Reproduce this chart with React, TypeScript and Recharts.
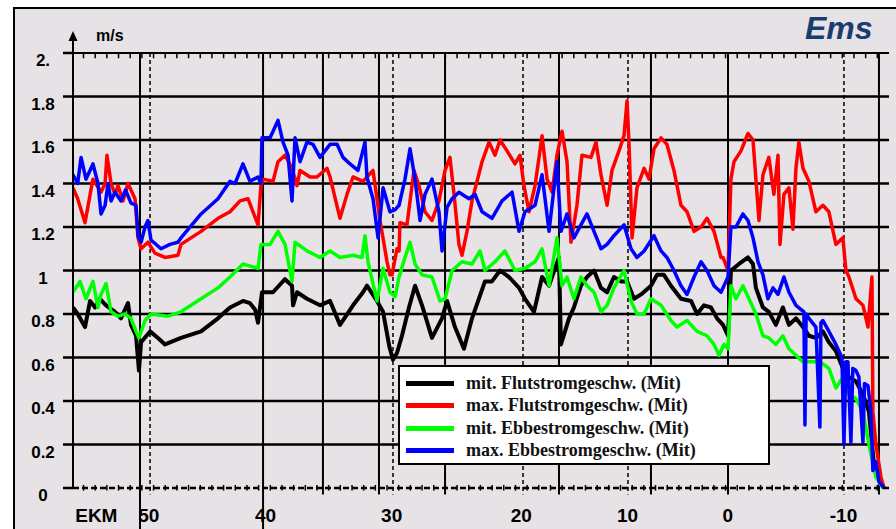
import React from "react";
import { LineChart, Line, XAxis, YAxis, ReferenceLine, Legend } from "recharts";

// Station along the fairway (km, uniform scale) and current speed in m/s
const mitFlut: [number, number][] = [
  [-0.9, 0.83], [-0.5, 0.8], [0.13, 0.74], [0.56, 0.86], [0.99, 0.83], [1.41, 0.87], [1.93, 0.84],
  [2.7, 0.81], [3.21, 0.78], [3.81, 0.85], [4.07, 0.75], [4.5, 0.7], [4.75, 0.54], [4.93, 0.67],
  [5.7, 0.72], [6.38, 0.69], [6.98, 0.66], [8.35, 0.69], [10.07, 0.72], [11.52, 0.78], [12.55, 0.83],
  [13.66, 0.86], [14.26, 0.85], [14.7, 0.82], [14.95, 0.76], [15.29, 0.9], [16.23, 0.9], [17.26, 0.96],
  [17.86, 0.93], [17.95, 0.84], [18.29, 0.9], [19.14, 0.87], [20.26, 0.84], [21.12, 0.86], [21.97, 0.75],
  [23.09, 0.84], [23.94, 0.9], [24.28, 0.93], [25.14, 0.86], [25.66, 0.81], [26.2, 0.65], [26.51, 0.59],
  [26.85, 0.62], [27.28, 0.7], [27.88, 0.83], [28.4, 0.93], [29.0, 0.84], [29.85, 0.69], [30.71, 0.78],
  [31.14, 0.86], [31.82, 0.74], [32.59, 0.64], [33.28, 0.78], [34.39, 0.95], [34.99, 0.95], [35.68, 1.0],
  [36.45, 0.97], [37.31, 0.92], [37.82, 0.87], [38.59, 0.81], [39.28, 0.97], [39.88, 0.93], [40.39, 1.01],
  [40.73, 1.06], [40.9, 0.66], [41.59, 0.78], [42.01, 0.83], [42.61, 0.93], [43.13, 0.97], [43.73, 1.0],
  [44.33, 0.92], [44.85, 0.9], [45.44, 0.97], [46.04, 0.95], [46.56, 0.95], [47.16, 0.87], [47.76, 0.89],
  [48.61, 0.93], [49.13, 0.98], [49.72, 0.98], [50.32, 0.93], [51.18, 0.87], [52.04, 0.86], [52.56, 0.8],
  [53.15, 0.84], [53.75, 0.83], [54.27, 0.78], [54.78, 0.75], [55.21, 0.7], [55.46, 1.0], [56.15, 1.03],
  [56.92, 1.06], [57.35, 1.03], [57.6, 0.92], [58.2, 0.83], [58.71, 0.81], [59.31, 0.75], [59.91, 0.83],
  [60.43, 0.75], [61.03, 0.78], [61.63, 0.74], [62.14, 0.7], [62.74, 0.69], [63.34, 0.72], [63.85, 0.67],
  [64.45, 0.63], [65.05, 0.55], [65.57, 0.51], [66.17, 0.49], [66.77, 0.43], [67.28, 0.35], [67.71, 0.11],
  [68.14, 0.05], [68.57, 0.0],
];

const maxFlut: [number, number][] = [
  [-0.9, 1.38], [-0.5, 1.33], [0.13, 1.22], [0.6, 1.36], [0.81, 1.42], [1.5, 1.36], [1.85, 1.4],
  [2.01, 1.53], [2.36, 1.4], [2.7, 1.35], [2.96, 1.39], [3.38, 1.32], [3.81, 1.4], [4.41, 1.33],
  [4.67, 1.15], [4.93, 1.1], [5.52, 1.13], [6.12, 1.08], [6.98, 1.06], [8.09, 1.07], [8.35, 1.12],
  [10.07, 1.18], [11.52, 1.24], [12.55, 1.27], [13.41, 1.32], [14.09, 1.33], [14.52, 1.27], [14.95, 1.21],
  [15.2, 1.39], [15.38, 1.42], [16.23, 1.41], [16.66, 1.5], [17.26, 1.53], [17.86, 1.47], [18.29, 1.39],
  [18.55, 1.46], [19.4, 1.43], [20.0, 1.43], [20.86, 1.47], [21.12, 1.43], [21.97, 1.24], [22.57, 1.35],
  [23.09, 1.43], [23.94, 1.41], [24.8, 1.46], [25.4, 1.23], [26.0, 1.04], [26.25, 0.98], [26.43, 0.98],
  [26.85, 1.1], [27.03, 1.09], [27.11, 1.22], [27.71, 1.21], [28.31, 1.46], [28.74, 1.39], [29.25, 1.27],
  [29.85, 1.23], [30.45, 1.32], [30.97, 1.46], [31.39, 1.52], [31.74, 1.35], [32.16, 1.12], [32.42, 1.07],
  [32.85, 1.18], [33.28, 1.32], [34.14, 1.5], [34.74, 1.59], [35.25, 1.53], [35.68, 1.6], [36.28, 1.55],
  [36.96, 1.49], [37.39, 1.53], [37.73, 1.39], [38.16, 1.27], [38.68, 1.39], [39.28, 1.62], [39.71, 1.42],
  [40.14, 1.36], [40.56, 1.53], [40.99, 1.64], [41.42, 1.5], [41.76, 1.13], [42.27, 1.3], [42.7, 1.53],
  [43.47, 1.52], [43.9, 1.59], [44.33, 1.44], [44.85, 1.3], [45.27, 1.46], [45.87, 1.55], [46.3, 1.62],
  [46.56, 1.78], [46.73, 1.58], [46.99, 1.15], [47.41, 1.38], [48.02, 1.47], [48.44, 1.42], [48.87, 1.56],
  [49.47, 1.61], [49.98, 1.58], [50.58, 1.46], [51.18, 1.3], [51.7, 1.27], [52.3, 1.18], [52.9, 1.2],
  [53.41, 1.24], [54.01, 1.18], [54.61, 1.06], [54.78, 1.06], [55.21, 1.0], [55.46, 1.42], [55.72, 1.5],
  [56.32, 1.55], [56.92, 1.63], [57.35, 1.6], [57.6, 1.42], [57.86, 1.23], [58.2, 1.44], [58.71, 1.52],
  [59.14, 1.35], [59.49, 1.53], [59.66, 1.12], [60.0, 1.35], [60.43, 1.38], [60.77, 1.19], [61.03, 1.47],
  [61.28, 1.59], [61.63, 1.47], [62.14, 1.41], [62.74, 1.27], [63.34, 1.3], [63.85, 1.27], [64.45, 1.12],
  [65.05, 1.15], [65.31, 1.0], [65.57, 0.97], [66.17, 0.87], [66.77, 0.84], [67.2, 0.74], [67.54, 0.97],
  [67.62, 0.35], [67.88, 0.2], [68.31, 0.05], [68.57, 0.0],
];

const mitEbbe: [number, number][] = [
  [-0.9, 0.9], [-0.3, 0.95], [0.21, 0.87], [0.81, 0.95], [1.24, 0.83], [1.5, 0.89], [1.93, 0.94],
  [2.36, 0.81], [2.96, 0.79], [3.55, 0.8], [4.07, 0.78], [4.5, 0.72], [4.75, 0.69], [5.27, 0.77],
  [5.78, 0.8], [7.24, 0.79], [8.35, 0.81], [10.07, 0.87], [11.52, 0.92], [12.55, 0.97], [13.66, 1.03],
  [14.95, 1.01], [15.2, 1.12], [15.98, 1.12], [16.66, 1.18], [17.26, 1.12], [17.86, 0.95], [18.12, 1.13],
  [19.14, 1.09], [20.26, 1.06], [21.12, 1.09], [21.97, 1.06], [23.09, 1.07], [23.86, 1.06], [24.11, 1.16],
  [24.37, 1.04], [25.14, 0.86], [25.66, 1.01], [26.25, 0.9], [26.7, 0.88], [27.03, 0.97], [27.54, 1.06],
  [27.97, 1.13], [28.4, 1.03], [29.0, 0.98], [29.85, 0.97], [30.54, 0.86], [30.97, 0.87], [31.57, 1.0],
  [32.42, 1.04], [33.28, 1.03], [33.97, 1.09], [34.39, 1.0], [35.25, 1.04], [36.1, 1.09], [36.96, 1.0],
  [37.82, 1.01], [38.68, 1.04], [39.28, 1.1], [39.88, 0.93], [40.56, 1.15], [40.99, 0.93], [41.42, 0.97],
  [42.01, 0.87], [42.61, 0.97], [43.13, 0.93], [43.73, 0.9], [44.33, 0.81], [44.85, 0.84], [45.44, 0.92],
  [46.3, 1.0], [46.9, 0.86], [47.41, 0.8], [48.02, 0.8], [48.61, 0.87], [49.47, 0.84], [50.32, 0.77],
  [50.84, 0.74], [51.7, 0.77], [52.56, 0.72], [53.41, 0.7], [54.01, 0.66], [54.44, 0.61], [54.86, 0.66],
  [55.21, 0.64], [55.46, 0.93], [55.89, 0.87], [56.49, 0.93], [57.0, 0.87], [57.6, 0.8], [58.2, 0.7],
  [58.71, 0.69], [59.31, 0.66], [59.91, 0.7], [60.43, 0.64], [61.03, 0.61], [61.63, 0.58], [62.74, 0.58],
  [63.34, 0.57], [63.85, 0.55], [64.45, 0.46], [65.05, 0.51], [65.57, 0.43], [66.17, 0.41], [66.77, 0.35],
  [67.28, 0.2], [67.88, 0.05], [68.48, 0.0],
];

const maxEbbe: [number, number][] = [
  [-0.9, 1.44], [-0.5, 1.4], [-0.21, 1.52], [0.21, 1.42], [0.81, 1.49], [1.24, 1.4], [1.5, 1.26],
  [1.85, 1.3], [2.1, 1.4], [2.36, 1.32], [2.7, 1.36], [3.21, 1.32], [3.6, 1.37], [4.07, 1.31],
  [4.5, 1.3], [4.67, 1.16], [4.93, 1.13], [5.27, 1.2], [5.52, 1.23], [5.78, 1.14], [6.64, 1.1],
  [7.4, 1.12], [8.09, 1.13], [8.35, 1.15], [10.07, 1.26], [11.52, 1.33], [12.55, 1.41], [12.98, 1.4],
  [13.66, 1.49], [14.26, 1.41], [14.95, 1.43], [15.2, 1.4], [15.29, 1.61], [15.98, 1.61], [16.66, 1.69],
  [17.09, 1.59], [17.52, 1.53], [17.86, 1.32], [18.12, 1.61], [18.55, 1.5], [19.14, 1.59], [19.66, 1.58],
  [20.26, 1.52], [21.12, 1.58], [21.72, 1.58], [22.23, 1.52], [22.83, 1.49], [23.51, 1.46], [24.11, 1.59],
  [24.28, 1.43], [24.8, 1.33], [25.23, 1.15], [25.66, 1.38], [26.25, 1.27], [26.7, 1.28], [27.03, 1.3],
  [27.54, 1.42], [27.97, 1.56], [28.4, 1.42], [28.83, 1.23], [29.25, 1.35], [29.85, 1.42], [30.45, 1.27],
  [30.71, 1.09], [31.14, 1.29], [31.57, 1.33], [32.16, 1.36], [33.02, 1.33], [33.54, 1.35], [34.14, 1.27],
  [34.99, 1.24], [35.85, 1.32], [36.71, 1.36], [37.31, 1.18], [37.82, 1.27], [38.68, 1.3], [39.28, 1.44],
  [39.88, 1.18], [40.56, 1.5], [40.9, 1.18], [41.42, 1.26], [42.01, 1.15], [42.61, 1.21], [43.13, 1.26],
  [43.73, 1.18], [44.33, 1.1], [44.85, 1.12], [45.44, 1.16], [46.3, 1.21], [46.9, 1.1], [47.41, 1.06],
  [48.02, 1.09], [48.87, 1.16], [49.47, 1.09], [49.98, 1.06], [50.58, 1.0], [51.18, 0.93], [51.7, 0.89],
  [52.3, 0.97], [52.9, 1.04], [53.41, 1.0], [54.01, 0.93], [54.61, 0.9], [55.21, 0.97], [55.46, 1.2],
  [55.89, 1.2], [56.49, 1.26], [56.92, 1.23], [57.35, 1.15], [57.78, 1.04], [58.2, 0.98], [58.63, 0.87],
  [59.06, 0.92], [59.49, 0.89], [60.0, 0.97], [60.43, 0.9], [61.03, 0.84], [61.71, 0.81], [61.8, 0.29],
  [61.9, 0.8], [62.14, 0.78], [62.74, 0.74], [63.08, 0.28], [63.17, 0.76], [63.34, 0.77], [63.85, 0.72],
  [64.45, 0.66], [64.97, 0.6], [65.14, 0.2], [65.31, 0.58], [65.48, 0.58], [65.74, 0.21], [65.9, 0.55],
  [66.17, 0.54], [66.42, 0.51], [66.77, 0.21], [66.9, 0.48], [67.2, 0.47], [67.45, 0.35], [67.62, 0.08],
  [67.88, 0.12], [68.14, 0.03], [68.57, 0.0],
];

const yTicks = [0, 0.2, 0.4, 0.6, 0.8, 1, 1.2, 1.4, 1.6, 1.8, 2];
const yTickLabels = ["0", "0.2", "0.4", "0.6", "0.8", "1", "1.2", "1.4", "1.6", "1.8", "2."];

// EKM labels sit at non-uniform stations
const ekmStations = [1.1, 5.6, 15.6, 26.4, 37.5, 46.6, 55.2, 65.1];
const ekmLabels = ["EKM", "50", "40", "30", "20", "10", "0", "-10"];

// minor tick every station km, along the top and the zero line
const kmTicks = Array.from({ length: 69 }, (_, i) => i);
const solidMarks = [4.84, 15.38, 20.51, 25.31, 30.97, 40.73, 48.61, 55.21, 68.14];
const dashedMarks = [5.7, 26.51, 37.65, 46.64, 65.14];

const series = [
  { name: "mit. Flutstromgeschw. (Mit)", color: "#000000", points: mitFlut, width: 4 },
  { name: "max. Flutstromgeschw. (Mit)", color: "#ff0000", points: maxFlut, width: 3.5 },
  { name: "mit. Ebbestromgeschw. (Mit)", color: "#00ff00", points: mitEbbe, width: 3.5 },
  { name: "max. Ebbestromgeschw. (Mit)", color: "#0000ff", points: maxEbbe, width: 3.5 },
];

const narrow = "'Liberation Sans Narrow', 'Arial Narrow', 'Liberation Sans', sans-serif";

const YTick = (props: any) => {
  const { x, y, index } = props;
  return (
    <text x={x} y={y + 13} textAnchor="middle" fontFamily={narrow} fontWeight="bold" fontSize={17} fill="#000">
      {yTickLabels[index]}
    </text>
  );
};

const EkmTick = (props: any) => {
  const { x, y, index } = props;
  return (
    <text x={x} y={y} textAnchor="middle" fontFamily={narrow} fontWeight="bold" fontSize={19} fill="#000">
      {ekmLabels[index]}
    </text>
  );
};

const renderLegend = (props: any) => {
  const names = series.map((s) => s.name);
  const items = [...(props.payload || [])].sort(
    (a: any, b: any) => names.indexOf(a.value) - names.indexOf(b.value)
  );
  return (
    <div
      style={{
        width: 372,
        height: 100,
        boxSizing: "border-box",
        background: "#ffffff",
        border: "2px solid #000",
        padding: "5px 0 0 6px",
      }}
    >
      {items.map((entry: any) => (
        <div key={entry.value} style={{ display: "flex", alignItems: "center", height: 22.5 }}>
          <span style={{ display: "inline-block", width: 48, height: 5, background: entry.color, marginRight: 12 }} />
          <span style={{ fontFamily: "'Liberation Serif', serif", fontWeight: "bold", fontSize: 18, color: "#111" }}>
            {entry.value}
          </span>
        </div>
      ))}
    </div>
  );
};

export default function App() {
  return (
    <div
      style={{
        position: "absolute",
        left: 0,
        top: 0,
        width: 896,
        height: 529,
        overflow: "hidden",
        background: "#ffffff",
        fontFamily: "'Liberation Sans', sans-serif",
      }}
    >
      <div
        style={{
          position: "absolute",
          left: 13,
          top: 7,
          width: 900,
          height: 540,
          border: "2px solid #000",
          background: "#e6e2e6",
        }}
      />
      <div style={{ position: "absolute", left: 0, top: 0 }}>
        <LineChart width={896} height={529} margin={{ top: 53, right: 7, bottom: 0, left: 23 }}>
          <XAxis
            xAxisId="km"
            dataKey="km"
            type="number"
            domain={[-0.9, 69]}
            allowDataOverflow
            ticks={ekmStations}
            interval={0}
            height={41}
            tickSize={0}
            tickMargin={34}
            axisLine={{ stroke: "#000", strokeWidth: 2.5, strokeDasharray: "6 3" }}
            tickLine={false}
            tick={<EkmTick />}
          />
          <YAxis
            type="number"
            domain={[0, 2]}
            ticks={yTicks}
            interval={0}
            width={50}
            tickSize={10}
            tickMargin={20}
            axisLine={{ stroke: "#000", strokeWidth: 2 }}
            tickLine={{ stroke: "#000", strokeWidth: 2.5 }}
            tick={<YTick />}
          />

          {yTicks
            .filter((v) => v > 0)
            .map((v) => (
              <ReferenceLine key={`h${v}`} xAxisId="km" y={v} stroke="#000" strokeWidth={v === 2 ? 2 : 2.5} />
            ))}
          {kmTicks.map((k) => (
            <ReferenceLine
              key={`t${k}`}
              xAxisId="km"
              segment={[{ x: k, y: 2 }, { x: k, y: 1.976 }]}
              stroke="#000"
              strokeWidth={1.5}
            />
          ))}
          {kmTicks.map((k) => (
            <ReferenceLine
              key={`b${k}`}
              xAxisId="km"
              segment={[{ x: k, y: 0.014 }, { x: k, y: -0.012 }]}
              ifOverflow="visible"
              stroke="#000"
              strokeWidth={1.5}
            />
          ))}
          {solidMarks.map((s) => (
            <ReferenceLine
              key={`s${s}`}
              xAxisId="km"
              segment={[{ x: s, y: 2 }, { x: s, y: s < 16 ? -0.19 : -0.03 }]}
              ifOverflow="visible"
              stroke="#000"
              strokeWidth={2}
            />
          ))}
          {dashedMarks.map((s) => (
            <ReferenceLine
              key={`d${s}`}
              xAxisId="km"
              segment={[{ x: s, y: 2 }, { x: s, y: -0.03 }]}
              ifOverflow="visible"
              stroke="#000"
              strokeWidth={1.5}
              strokeDasharray="4 3"
            />
          ))}

          {series.map((s) => (
            <Line
              key={s.name}
              xAxisId="km"
              data={s.points.map(([km, v]) => ({ km, v }))}
              dataKey="v"
              name={s.name}
              type="linear"
              stroke={s.color}
              strokeWidth={s.width}
              strokeLinejoin="round"
              dot={false}
              activeDot={false}
              isAnimationActive={false}
            />
          ))}

          <Legend
            layout="vertical"
            align="center"
            verticalAlign="middle"
            content={renderLegend}
            wrapperStyle={{ left: 398, top: 365, width: 372, height: 100 }}
          />
        </LineChart>
      </div>

      <svg width={896} height={529} style={{ position: "absolute", left: 0, top: 0, pointerEvents: "none" }}>
        <line x1={73} y1={40} x2={73} y2={53} stroke="#000" strokeWidth={2} />
        <polygon points="73,31 68.5,41 77.5,41" fill="#000" />
        <text x={96} y={41} fontFamily="'Liberation Sans', sans-serif" fontWeight="bold" fontSize={16} fill="#000">
          m/s
        </text>
        <text
          x={805}
          y={39}
          fontFamily="'Liberation Sans', sans-serif"
          fontWeight="bold"
          fontStyle="italic"
          fontSize={32}
          fill="#1a3d70"
        >
          Ems
        </text>
      </svg>
    </div>
  );
}
